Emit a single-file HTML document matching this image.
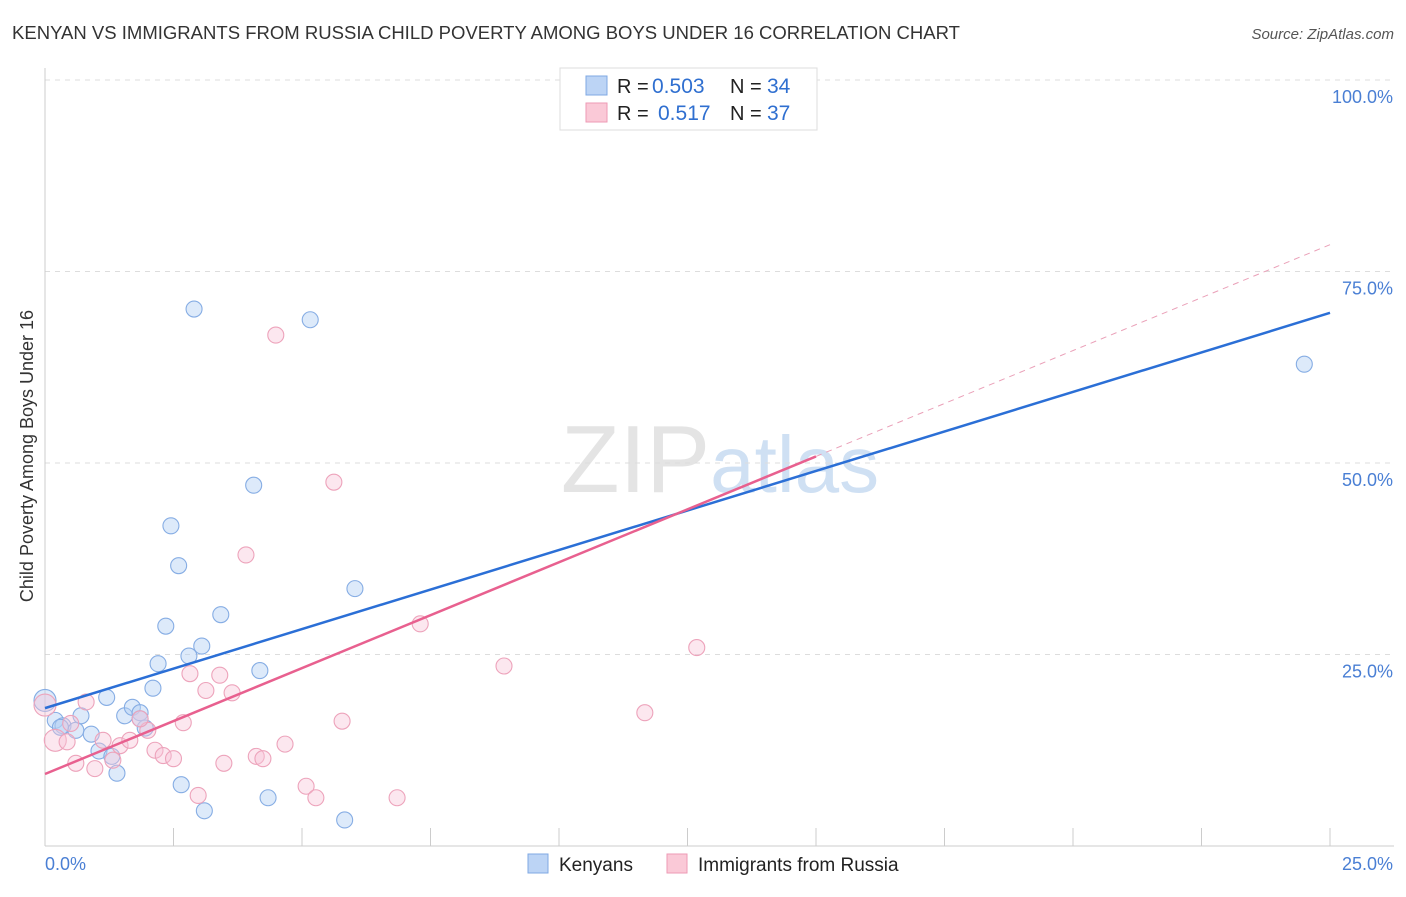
<!DOCTYPE html>
<html><head><meta charset="utf-8"><style>
body{margin:0;background:#fff;font-family:"Liberation Sans",sans-serif;}
svg text{font-family:"Liberation Sans",sans-serif;}
</style></head><body>
<svg id="c" width="1406" height="892" xmlns="http://www.w3.org/2000/svg">
<text x="12" y="39" font-size="18" fill="#333" textLength="948" lengthAdjust="spacingAndGlyphs">KENYAN VS IMMIGRANTS FROM RUSSIA CHILD POVERTY AMONG BOYS UNDER 16 CORRELATION CHART</text>
<text x="1394" y="39" font-size="15" fill="#555" font-style="italic" text-anchor="end">Source: ZipAtlas.com</text>
<text x="720" y="492" font-size="96" fill="#e4e4e4" text-anchor="middle" font-family="Liberation Serif">ZIP<tspan fill="#cfe0f3" font-family="Liberation Sans" font-size="80">atlas</tspan></text>
<text transform="translate(33,456) rotate(-90)" font-size="18" fill="#333" text-anchor="middle">Child Poverty Among Boys Under 16</text>
<g id="grid"></g><g id="pts"></g><g id="lines"></g>
<g>
<rect x="560" y="68" width="257" height="62" fill="#fff" stroke="#ddd"/>
<rect x="586" y="76" width="21" height="19" fill="#bcd4f5" stroke="#7fa8e3"/>
<text x="617" y="93" font-size="20" fill="#222">R =</text>
<text x="652" y="93" font-size="21" fill="#2f6fd0">0.503</text>
<text x="730" y="93" font-size="20" fill="#222">N =</text>
<text x="767" y="93" font-size="21" fill="#2f6fd0">34</text>
<rect x="586" y="103" width="21" height="19" fill="#fac9d7" stroke="#ee9ab4"/>
<text x="617" y="120" font-size="20" fill="#222">R =</text>
<text x="658" y="120" font-size="21" fill="#2f6fd0">0.517</text>
<text x="730" y="120" font-size="20" fill="#222">N =</text>
<text x="767" y="120" font-size="21" fill="#2f6fd0">37</text>
</g>
<g>
<rect x="528" y="854" width="20" height="19" fill="#bcd4f5" stroke="#7fa8e3"/>
<text x="559" y="871" font-size="19" fill="#222">Kenyans</text>
<rect x="667" y="854" width="20" height="19" fill="#fac9d7" stroke="#ee9ab4"/>
<text x="698" y="871" font-size="19" fill="#222">Immigrants from Russia</text>
</g>
</svg>
<script>
const yTicks=[25,50,75,100];
const yTickLabels=["25.0%","50.0%","75.0%","100.0%"];
const blueX=[0,0.2,0.35,0.6,0.7,0.9,1.05,1.2,1.3,1.4,1.55,1.7,1.85,1.95,2.1,2.2,2.35,2.45,2.6,2.65,2.8,2.9,3.05,3.1,3.42,4.06,4.18,4.34,5.16,5.83,6.03,24.5,0.3,1.85];
const blueY=[19.0,16.4,15.7,15.1,17.0,14.6,12.4,19.4,11.7,9.5,17.0,18.1,17.4,15.4,20.6,23.8,28.7,41.8,36.6,8.0,24.8,70.1,26.1,4.6,30.2,47.1,22.9,6.3,68.7,3.4,33.6,62.9,15.5,16.6];
const pinkX=[0,0.2,0.43,0.6,0.8,0.97,1.13,1.32,1.46,1.65,2.0,2.14,2.3,2.5,2.69,2.82,2.98,3.13,3.4,3.48,3.64,3.91,4.11,4.24,4.49,4.67,5.08,5.27,5.78,5.62,6.85,7.3,8.93,11.67,12.68,14.32,1.85,0.5];
const pinkY=[18.4,13.8,13.6,10.8,18.8,10.1,13.8,11.2,13.1,13.8,15.1,12.5,11.8,11.4,16.1,22.5,6.6,20.3,22.3,10.8,20.0,38.0,11.7,11.4,66.7,13.3,7.8,6.3,16.3,47.5,6.3,29.0,23.5,17.4,25.9,100.0,16.6,16.0];
const blueLine=[18.0,69.6];
const pinkLine=[9.4,78.5];
const NS="http://www.w3.org/2000/svg";
const X=v=>45+v*51.4, Y=v=>846-v*7.66;
function mk(t,a,p){const e=document.createElementNS(NS,t);for(const k in a)e.setAttribute(k,a[k]);p.appendChild(e);return e;}
const g=document.getElementById('grid');
yTicks.forEach((t,i)=>{
 const l=mk('line',{x1:45,x2:1394,y1:Y(t),y2:Y(t),stroke:'#ddd','stroke-dasharray':'5,5'},g);
 
 
 const tx=mk('text',{x:1393,y:Y(t)+23,'font-size':18,fill:'#4a7fd4','text-anchor':'end'},g);
 tx.textContent=yTickLabels[i];
 
 
});
mk('line',{x1:45,x2:45,y1:68,y2:846,stroke:'#ccc'},g);
mk('line',{x1:45,x2:1394,y1:846,y2:846,stroke:'#ccc'},g);
for(let i=0;i<=10;i++){const t=mk('line',{x1:X(i*2.5),x2:X(i*2.5),y1:828,y2:846,stroke:'#ccc'},g);
 
 }
const x0=mk('text',{x:45,y:870,'font-size':18,fill:'#4a7fd4'},g);x0.textContent='0.0%';


const x1=mk('text',{x:1393,y:870,'font-size':18,fill:'#4a7fd4','text-anchor':'end'},g);x1.textContent='25.0%';


const p=document.getElementById('pts');
blueX.forEach((v,i)=>{const c=mk('circle',{cx:X(v),cy:Y(blueY[i]),r:i==0?11:8,fill:'rgba(180,208,243,0.45)',stroke:'#86ade4','stroke-width':1.1},p);
 
 });
pinkX.forEach((v,i)=>{const c=mk('circle',{cx:X(v),cy:Y(pinkY[i]),r:i<2?11:8,fill:'rgba(247,196,214,0.4)',stroke:'#eda3bb','stroke-width':1.1},p);
 
 });
const L=document.getElementById('lines');
const b=mk('line',{x1:X(0),y1:Y(blueLine[0]),x2:X(25),y2:Y(blueLine[1]),stroke:'#2b6fd6','stroke-width':2.5},L);


const pf=v=>pinkLine[0]+(pinkLine[1]-pinkLine[0])*v/25;
const pl=mk('line',{x1:X(0),y1:Y(pf(0)),x2:X(15),y2:Y(pf(15)),stroke:'#e8608f','stroke-width':2.5},L);


const pd=mk('line',{x1:X(15),y1:Y(pf(15)),x2:X(25),y2:Y(pf(25)),stroke:'#eaa0b8','stroke-width':1,'stroke-dasharray':'6,5'},L);


</script>
</body></html>
